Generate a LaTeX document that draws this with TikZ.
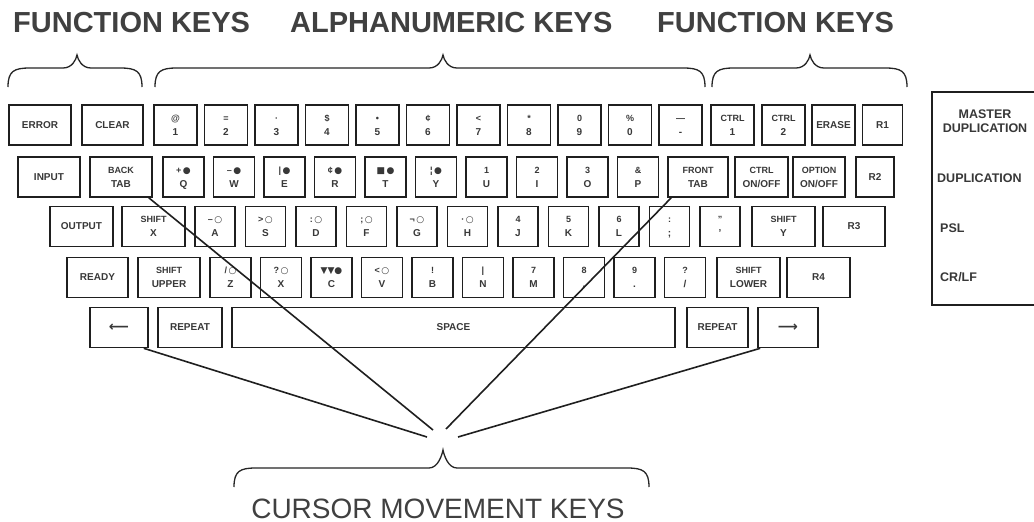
\documentclass[tikz,border=0pt]{standalone}
\usepackage{fontspec}
\setmainfont{Liberation Sans}
\newfontfamily\symf{DejaVu Sans}
\usetikzlibrary{calc}
\newcommand\fb{{\symf ●}}
\newcommand\fo{{\symf ○}}
\newcommand\kl[2]{\fontsize{9}{14.5}\selectfont\strut#1\\\strut#2}
\newcommand\ak[6]{\node[keyb,minimum width=#4pt] (#1) at (#2,#3) {\kl{#5}{#6}};}
\newcommand\fk[5]{\node[keyb,minimum width=#4pt] (#1) at (#2,#3) {#5};}
\newcommand\brc[6]{\draw[brace] (#1,#6) .. controls (#1,#5+3) and (#1+6,#5) .. (#1+22,#5) -- (#3-14,#5) .. controls (#3-5,#5) and (#3-1,#4+5) .. (#3,#4) .. controls (#3+1,#4+5) and (#3+5,#5) .. (#3+14,#5) -- (#2-22,#5) .. controls (#2-6,#5) and (#2,#5+3) .. (#2,#6);}
\begin{document}
\begin{tikzpicture}[x=1pt,y=-1pt,
  keyb/.style={draw=black!88, line width=1.6pt, minimum height=40pt, inner sep=0pt, align=center, font=\bfseries\fontsize{10}{12}\selectfont, text=black!78},
  conn/.style={draw=black!88, line width=1.6pt},
  brace/.style={draw=black!85, line width=1.3pt},
  title/.style={inner sep=0pt, text=black!75, font=\bfseries\fontsize{29}{31}\selectfont},
  boxtext/.style={inner sep=0pt, text=black!78, font=\bfseries\fontsize{12.5}{14}\selectfont, align=center}]
\fill[white] (0,0) rectangle (1034,522);
\useasboundingbox (0,0) rectangle (1034,522);
% titles
\node[title, anchor=base west] (tfa) at (13,32) {FUNCTION KEYS};
\node[title, anchor=base west] (talpha) at (290,32) {ALPHANUMERIC KEYS};
\node[title, anchor=base west] (tfb) at (657,32) {FUNCTION KEYS};
\brc{8}{142}{77}{55}{68}{87}
\brc{155}{705}{443}{55}{68}{87}
\brc{712}{907}{810}{55}{68}{87}
% row 1
\fk{error}{40}{125}{62}{ERROR}
\fk{clear}{112.5}{125}{61}{CLEAR}
\ak{k1}{175.5}{125}{43}{@}{1}
\ak{k2}{226}{125}{43}{=}{2}
\ak{k3}{276.5}{125}{43}{·}{3}
\ak{k4}{327}{125}{43}{\$}{4}
\ak{k5}{377.5}{125}{43}{•}{5}
\ak{k6}{428}{125}{43}{¢}{6}
\ak{k7}{478.5}{125}{43}{<}{7}
\ak{k8}{529}{125}{43}{*}{8}
\ak{k9}{579.5}{125}{43}{0}{9}
\ak{k0}{630}{125}{43}{\%}{0}
\ak{kmin}{680.5}{125}{43}{—}{-}
\ak{ctrla}{732.5}{125}{43}{CTRL}{1}
\ak{ctrlb}{783.5}{125}{43}{CTRL}{2}
\fk{erase}{833.5}{125}{43}{ERASE}
\fk{rone}{882.5}{125}{40}{R1}
% row 2
\fk{input}{49}{177}{62}{INPUT}
\ak{backtab}{121}{177}{62}{BACK}{TAB}
\ak{kq}{183.5}{177}{41}{+\,\fb}{Q}
\ak{kw}{234}{177}{41}{–\,\fb}{W}
\ak{ke}{284.5}{177}{41}{|\,\fb}{E}
\ak{kr}{335}{177}{41}{¢\,\fb}{R}
\ak{kt}{385.5}{177}{41}{{\symf ■}\,\fb}{T}
\ak{ky}{436}{177}{41}{¦\,\fb}{Y}
\ak{ku}{486.5}{177}{41}{1}{U}
\ak{ki}{537}{177}{41}{2}{I}
\ak{ko}{587.5}{177}{41}{3}{O}
\ak{kp}{638}{177}{41}{\&}{P}
\ak{fronttab}{698}{177}{60}{FRONT}{TAB}
\ak{ctrlc}{761.5}{177}{53}{CTRL}{ON/OFF}
\ak{option}{819}{177}{52}{OPTION}{ON/OFF}
\fk{rtwo}{875}{177}{38}{R2}
% row 3
\fk{output}{81.5}{226.5}{63}{OUTPUT}
\ak{shiftx}{153.5}{226.5}{63}{SHIFT}{X}
\ak{ka}{215}{226.5}{40}{–\,\fo}{A}
\ak{ks}{265.5}{226.5}{40}{>\,\fo}{S}
\ak{kd}{316}{226.5}{40}{:\,\fo}{D}
\ak{kf}{366.5}{226.5}{40}{;\,\fo}{F}
\ak{kg}{417}{226.5}{40}{¬\,\fo}{G}
\ak{kh}{467.5}{226.5}{40}{·\,\fo}{H}
\ak{kj}{518}{226.5}{40}{4}{J}
\ak{kk}{568.5}{226.5}{40}{5}{K}
\ak{kll}{619}{226.5}{40}{6}{L}
\ak{ksemi}{669.5}{226.5}{40}{:}{;}
\ak{kquote}{720}{226.5}{40}{"}{'}
\ak{shifty}{783.5}{226.5}{63}{SHIFT}{Y}
\fk{rthree}{854}{226.5}{62}{R3}
% row 4
\fk{ready}{97.5}{277.5}{61}{READY}
\ak{shiftu}{169}{277.5}{62}{SHIFT}{UPPER}
\ak{kz}{230.5}{277.5}{41}{/\,\fo}{Z}
\ak{kx}{281}{277.5}{41}{?\,\fo}{X}
\ak{kc}{331.5}{277.5}{41}{{\symf ▼▼}\fb}{C}
\ak{kv}{382}{277.5}{41}{<\,\fo}{V}
\ak{kb}{432.5}{277.5}{41}{!}{B}
\ak{kn}{483}{277.5}{41}{|}{N}
\ak{km}{533.5}{277.5}{41}{7}{M}
\ak{kcomma}{584}{277.5}{41}{8}{,}
\ak{kdot}{634.5}{277.5}{41}{9}{.}
\ak{kslash}{685}{277.5}{41}{?}{/}
\ak{shiftl}{748.5}{277.5}{63}{SHIFT}{LOWER}
\fk{rfour}{818.5}{277.5}{63}{R4}
% row 5
\fk{larr}{119}{327.5}{58}{{\symf\bfseries\fontsize{14}{14}\selectfont ⟵}}
\fk{repa}{190}{327.5}{64}{REPEAT}
\fk{space}{453.5}{327.5}{443}{SPACE}
\fk{repb}{717.5}{327.5}{61}{REPEAT}
\fk{rarr}{788}{327.5}{60}{{\symf\bfseries\fontsize{14}{14}\selectfont ⟶}}
% right box
\draw[conn] (1036,92) -- (932,92) -- (932,305) -- (1036,305);
\node[boxtext] (mdup) at (985,121) {MASTER\\DUPLICATION};
\node[boxtext, anchor=west] (dup) at (937,178) {DUPLICATION};
\node[boxtext, anchor=west] (psl) at (940,228) {PSL};
\node[boxtext, anchor=west] (crlf) at (940,277) {CR/LF};
% cursor connectors
\coordinate (ea) at (427,437);
\coordinate (eb) at (433,430);
\coordinate (ec) at (446,429);
\coordinate (ed) at (458,437);
\draw[conn] ($(larr.south east)+(-5,0)$) -- (ea);
\draw[conn] ($(backtab.south east)+(-4,0)$) -- (eb);
\draw[conn] ($(fronttab.south west)+(4,0)$) -- (ec);
\draw[conn] ($(rarr.south west)+(3,0)$) -- (ed);
\brc{234}{649}{443}{450}{468}{487}
\node[inner sep=0pt, anchor=base, text=black!75, font=\fontsize{28}{30}\selectfont] (tcur) at (438,518) {CURSOR MOVEMENT KEYS};
\end{tikzpicture}
\end{document}
